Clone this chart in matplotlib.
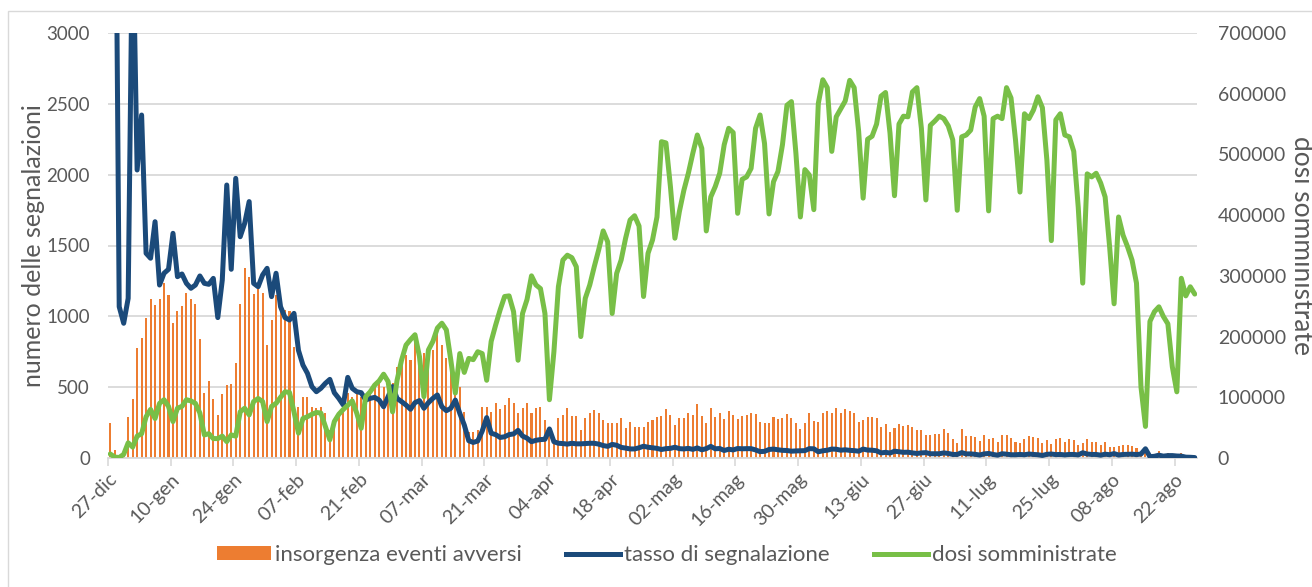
import numpy as np
import matplotlib
matplotlib.use("Agg")
import matplotlib.pyplot as plt
from matplotlib.patches import Rectangle, Patch
from matplotlib.lines import Line2D
from matplotlib.ticker import FuncFormatter

# ---------------- data (daily, 27-dic-2020 -> 26-ago-2021) ----------------
tick_labels = ["27-dic", "10-gen", "24-gen", "07-feb", "21-feb", "07-mar", "21-mar",
               "04-apr", "18-apr", "02-mag", "16-mag", "30-mag", "13-giu", "27-giu",
               "11-lug", "25-lug", "08-ago", "22-ago"]

eventi_avversi = [
    249, 56, 10, 30, 287, 414, 779, 849, 991, 1122, 1080, 1120, 1233, 1151, 951,
    1040, 1073, 1162, 1120, 1087, 838, 461, 544, 416, 304, 452, 515, 520, 668, 1085,
    1339, 1280, 1158, 1190, 1167, 798, 974, 1151, 1080, 1045, 1040, 786, 362,
    433, 433, 362, 351, 362, 315, 198, 268, 292, 362, 456, 433, 468, 433, 445, 456,
    515, 551, 504, 456, 527, 645, 727, 727, 692, 845, 739, 739, 774, 762, 900, 798,
    704, 668, 515, 504,
    326, 186, 186, 198, 362, 362, 327, 386, 344, 374, 421, 386, 315, 351, 386, 315,
    351, 358, 268, 190, 120, 280, 304, 351, 296, 296, 198, 280, 315, 339, 315, 268,
    245, 245, 249, 280, 209, 256, 216, 221,
    221, 256, 268, 287, 296, 343, 304, 233, 280, 280, 320, 304, 379, 296, 249, 351,
    292, 315, 273, 334, 304, 273, 296, 304, 315, 308, 256, 245, 245, 287, 273, 280,
    308, 280, 249, 205, 249, 315, 264, 256,
    315, 334, 320, 351, 315, 343, 334, 315, 256, 268, 292, 292, 280, 216, 240, 186,
    209, 240, 226, 233, 216, 198, 198, 162, 162, 169, 169, 202, 174, 132, 104, 202,
    155, 155, 151, 122, 162, 132, 139, 115,
    162, 162, 139, 115, 108, 132, 155, 146, 139, 104, 127, 99, 132, 139, 115, 132,
    127, 92, 108, 132, 115, 115, 92, 115, 80, 80, 85, 92, 89, 85, 68, 33, 56, 21,
    30, 49, 30, 38, 25, 15, 38, 15, 10, 8]

tasso_segnalazione = [
    3800, 5000, 1068, 951, 1127, 3800, 2033, 2421, 1445, 1410, 1668, 1221, 1304, 1332,
    1586, 1280, 1299, 1233, 1198, 1221, 1285, 1233, 1226, 1268, 991, 1256, 1927, 1332,
    1974, 1562, 1657, 1810, 1233, 1209, 1292, 1339, 1139, 1304, 1068, 991, 974, 1021, 760,
    656, 598, 504, 468, 492, 527, 555, 461, 421, 374, 569, 492, 468, 461, 409, 421,
    428, 409, 362, 433, 504, 421, 398, 374, 344, 391, 405, 351, 391, 421, 445, 362,
    334, 351, 409, 315, 233,
    122, 110, 120, 190, 285, 175, 165, 145, 150, 165, 170, 195, 155, 140, 115, 125,
    130, 132, 205, 115, 104, 102, 98, 104, 100, 100, 102, 104, 104, 98, 88, 82, 96,
    90, 75, 70, 64, 64, 72,
    83, 76, 72, 68, 60,
    66, 68, 76, 66, 64, 68, 61,
    71, 58, 66, 82, 65, 67, 53,
    62, 57, 67, 65, 66, 66, 57,
    45, 47, 60, 63, 58, 54, 53,
    48, 50, 51, 52, 66, 65, 44,
    51, 55, 63, 62, 55, 58, 54,
    52, 48, 63, 56, 55, 51, 36,
    40, 35, 48, 44, 40, 41, 36,
    32, 36, 38, 30, 30, 30, 36,
    32, 25, 25, 38, 29, 29, 26,
    21, 29, 32, 25, 20, 30, 27,
    23, 23, 25, 23, 28, 25, 23,
    18, 26, 28, 24, 25, 22, 25,
    25, 22, 37, 28, 25, 25, 20,
    27, 23, 31, 21, 25, 26, 27,
    24, 28, 65, 9, 12, 20, 13,
    17, 17, 14, 13, 6, 5, 3]

dosi_somministrate = [
    6600, 1500, 800, 6000, 25000, 18000, 36000, 40000, 68000, 80000, 65000, 90000,
    96000, 85000, 60000, 82000, 85000, 96000, 94000, 90000, 74000, 38000, 40000,
    32000, 32000, 36000, 27000, 38000, 36000, 76000, 82000, 71000, 93000, 98000,
    93000, 60000, 85000, 90000, 100000, 109000, 108000, 76000, 41000,
    65000, 68000, 72000, 75000, 74000, 52000, 30000, 60000, 72000, 80000, 87000,
    94000, 74000, 49000, 101000, 109000, 120000, 127000, 138000, 126000, 76000,
    128000, 161000, 186000, 195000, 203000, 167000, 101000, 178000, 192000, 214000,
    222000, 211000, 161000, 107000, 172000,
    141000, 164000, 162000, 175000, 172000, 128000, 192000, 219000, 244000, 266000,
    267000, 241000, 161000, 238000, 261000, 300000, 285000, 279000, 238000, 96000,
    175000, 282000, 326000, 334000, 330000, 315000, 200000, 263000, 285000, 315000,
    343000, 374000, 356000, 238000, 304000, 326000, 362000, 392000, 399000, 382000,
    266000, 337000, 359000, 397000, 521000, 519000, 447000, 362000, 406000, 441000,
    469000, 502000, 532000, 510000, 374000, 430000, 447000, 469000, 516000, 543000,
    536000, 403000, 459000, 463000, 477000, 543000, 565000, 518000, 402000, 455000,
    472000, 516000, 581000, 587000, 502000, 397000, 475000, 466000, 409000, 584000,
    623000, 610000, 505000, 562000, 575000, 588000, 622000, 610000, 538000, 428000,
    525000, 530000, 550000, 596000, 602000, 535000, 432000, 550000, 563000, 562000,
    603000, 610000, 543000, 425000, 548000, 555000, 563000, 559000, 547000, 524000,
    408000, 529000, 532000, 540000, 578000, 592000, 563000, 407000, 559000, 563000,
    559000, 610000, 593000, 524000, 438000, 567000, 559000, 573000, 595000, 577000,
    491000, 358000, 557000, 567000, 532000, 529000, 505000, 413000, 288000, 468000,
    463000, 469000, 453000, 430000, 348000, 254000, 397000, 367000, 348000, 326000,
    288000, 117000, 52000, 225000, 241000, 249000, 233000, 221000, 150000, 109000,
    296000, 267000, 282000, 270000]

days = np.arange(len(eventi_avversi))

# ---------------- style ----------------
ORANGE = "#ED7D31"
BLUE = "#1B4A7A"
GREEN = "#78BF47"
GRID = "#D9D9D9"
TXT = "#595959"
FONT = ["Lato", "DejaVu Sans"]
plt.rcParams["font.family"] = FONT

W, H = 1312, 587
fig = plt.figure(figsize=(W / 100, H / 100), dpi=100)
left, right, top, bottom = 108, 1197, 33, 458
ax1 = fig.add_axes([left / W, 1 - bottom / H, (right - left) / W, (bottom - top) / H])
ax2 = ax1.twinx()

# outer chart border
fig.patches.append(Rectangle((8 / W, -0.05), 1.2, 1 - 11 / H + 0.05,
                             transform=fig.transFigure, fill=False,
                             edgecolor=GRID, linewidth=1.0))

ax1.bar(days, eventi_avversi, width=0.45, color=ORANGE, zorder=2)
ax1.plot(days, tasso_segnalazione, color=BLUE, linewidth=3.6, zorder=3,
         solid_joinstyle="round", solid_capstyle="round")
ax2.plot(days, dosi_somministrate, color=GREEN, linewidth=3.6, zorder=3,
         solid_joinstyle="round", solid_capstyle="round")

ax1.set_xlim(-0.5, len(days) - 0.5)
ax1.set_ylim(0, 3000)
ax2.set_ylim(0, 700000)
ax1.set_yticks(np.arange(0, 3001, 500))
ax2.set_yticks(np.arange(0, 700001, 100000))
ax1.yaxis.grid(True, color=GRID, linewidth=1.3, zorder=0)
ax1.set_axisbelow(True)

ax1.set_xticks(np.arange(0, len(days), 14) - 0.5)
ax1.set_xticklabels(tick_labels, rotation=45, ha="right", rotation_mode="anchor")

for a in (ax1, ax2):
    for s in a.spines.values():
        s.set_visible(False)
ax1.spines["bottom"].set_visible(True)
ax1.spines["bottom"].set_color(GRID)
ax1.spines["bottom"].set_linewidth(1.3)

ax1.tick_params(axis="x", colors=TXT, labelsize=14, length=6, width=1.2,
                direction="out", color=GRID, pad=3)
ax1.tick_params(axis="y", colors=TXT, labelsize=13.5, length=0, pad=13)
ax2.tick_params(axis="y", colors=TXT, labelsize=14, length=0, pad=15)
ax2.tick_params(axis="x", length=0)
ax2.yaxis.set_major_formatter(FuncFormatter(lambda v, p: f"{int(v)}"))

ax1.set_ylabel("numero delle segnalazioni", color=TXT, fontsize=18, va="center")
ax2.set_ylabel("dosi somministrate", color=TXT, fontsize=19, rotation=270,
               va="center")
ax1.yaxis.set_label_coords((34 - left) / (right - left), 0.5)
ax2.yaxis.set_label_coords((1301 - left) / (right - left), 0.5)

handles = [Patch(facecolor=ORANGE, edgecolor="none"),
           Line2D([0], [0], color=BLUE, linewidth=3.6),
           Line2D([0], [0], color=GREEN, linewidth=3.6)]
labels = ["insorgenza eventi avversi", "tasso di segnalazione", "dosi somministrate"]
leg = fig.legend(handles, labels, loc="center", bbox_to_anchor=(667 / W, 1 - 555 / H),
                 ncol=3, frameon=False, fontsize=16, handlelength=2.4,
                 handleheight=0.6, handletextpad=0.2, columnspacing=2.0)
for t in leg.get_texts():
    t.set_color(TXT)

fig.savefig("out.png", dpi=100)
